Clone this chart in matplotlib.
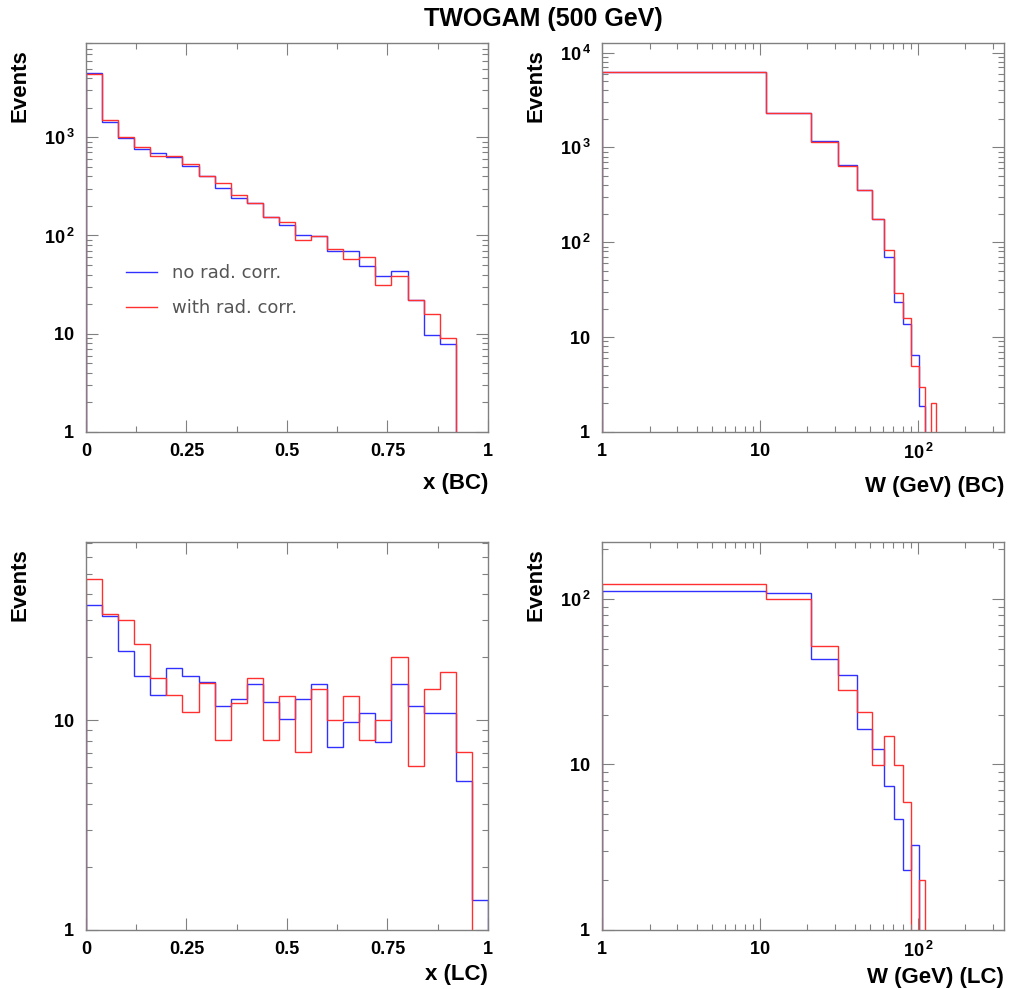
import numpy as np
import matplotlib
matplotlib.use('Agg')
import matplotlib.pyplot as plt
from matplotlib.ticker import FixedLocator, NullFormatter, LogLocator
from matplotlib.lines import Line2D

plt.rcParams['font.family'] = ['Liberation Sans', 'DejaVu Sans']
plt.rcParams['mathtext.fontset'] = 'custom'
plt.rcParams['mathtext.rm'] = 'Liberation Sans:bold'
plt.rcParams['mathtext.it'] = 'Liberation Sans:bold'
plt.rcParams['mathtext.bf'] = 'Liberation Sans:bold'

# бины
x_edges = np.linspace(0, 1, 26)
w_edges = np.arange(1, 352, 10)

# x (BC)
blue_xbc = [4500, 1430, 977, 766, 692, 625, 506, 406, 306, 242, 212, 156, 127,
            102, 98, 69, 69, 49, 38.5, 44, 22, 9.7, 7.85, 0, 0]
red_xbc = [4450, 1515, 1008, 790, 650, 640, 539, 406, 342, 258, 212, 156, 138,
           89, 98, 73, 57, 61, 31, 39, 22, 16, 9.1, 0, 0]

# W (BC)
blue_wbc = [6260, 2316, 1167, 651, 356, 176, 69.5, 23.4, 13.7, 6.5, 1.88, 0, 0] + [0] * 22
red_wbc = [6260, 2316, 1130, 636, 356, 176, 82, 29.5, 16.1, 5, 3, 0, 2] + [0] * 22

# x (LC)
blue_xlc = [35.5, 31.5, 21.5, 16.3, 13.2, 17.8, 16.3, 15.3, 11.7, 12.6, 14.9, 12.2, 10.2,
            12.6, 14.9, 7.49, 9.8, 10.8, 7.91, 14.9, 11.7, 10.8, 10.8, 5.14, 1.39]
red_xlc = [47.4, 32.2, 30.2, 23.1, 16.0, 13.2, 11.0, 15.1, 8.06, 12.1, 16.0, 8.06, 13.1,
           7.06, 14.1, 10.0, 13.1, 8.06, 10.0, 20.1, 6.05, 14.1, 17.1, 7.06, 0]

# W (LC)
blue_wlc = [112, 108, 43.6, 34.9, 16.3, 12.4, 7.4, 4.66, 2.31, 3.24, 0, 0, 0] + [0] * 22
red_wlc = [123, 100, 52, 28, 20.8, 9.9, 14.9, 9.9, 5.95, 0, 2, 0, 0] + [0] * 22

ymax = {'xbc': 9100, 'wbc': 12600, 'xlc': 71, 'wlc': 221}

gray = '#808080'


def ylab(v):
    e = int(round(np.log10(v)))
    if e == 0:
        return r'$\mathbf{1}\ \;$'
    if e == 1:
        return r'$\mathbf{10}\ \;$'
    return r'$\mathbf{10^{\,%d}}$' % e


def xlab_log(v):
    e = int(round(np.log10(v)))
    if e == 0:
        return r'$\mathbf{1}$'
    if e == 1:
        return r'$\mathbf{10}$'
    return r'$\mathbf{10^{\,%d}}$' % e


def setup(ax, blue, red, edges, top, xlabel, logx, xpad):
    ax.stairs(blue, edges, color='#3030ff', lw=1.0, baseline=0)
    ax.stairs(red, edges, color='#ff3030', lw=1.0, baseline=0)
    ax.set_yscale('log', nonpositive='clip')
    ax.set_ylim(1, top)
    decs = [10 ** k for k in range(0, 5) if 10 ** k <= top]
    ax.yaxis.set_major_locator(FixedLocator(decs))
    ax.set_yticklabels([ylab(d) for d in decs])
    ax.yaxis.set_minor_locator(LogLocator(base=10, subs=np.arange(2, 10), numticks=20))
    ax.yaxis.set_minor_formatter(NullFormatter())
    if logx:
        ax.set_xscale('log')
        ax.set_xlim(edges[0], edges[-1])
        ax.xaxis.set_major_locator(FixedLocator([1, 10, 100]))
        ax.set_xticklabels([xlab_log(v) for v in [1, 10, 100]])
        ax.xaxis.set_minor_locator(LogLocator(base=10, subs=np.arange(2, 10), numticks=20))
        ax.xaxis.set_minor_formatter(NullFormatter())
    else:
        ax.set_xlim(0, 1)
        ax.set_xticks([0, 0.25, 0.5, 0.75, 1])
        ax.set_xticklabels(['0', '0.25', '0.5', '0.75', '1'], fontweight='bold')
        ax.set_xticks(np.arange(0.125, 1, 0.25), minor=True)
    ax.tick_params(which='both', direction='in', top=True, right=True,
                   color=gray, width=0.8, labelsize=13, pad=8)
    ax.tick_params(which='major', length=8.5)
    ax.tick_params(which='minor', length=4.5)
    for s in ax.spines.values():
        s.set_color(gray)
        s.set_linewidth(1.0)
    ax.set_xlabel(xlabel, loc='right', fontsize=16, fontweight='bold', labelpad=xpad)
    ax.set_ylabel('Events', loc='top', fontsize=16, fontweight='bold')
    ax.yaxis.set_label_coords(-0.139, 0.985)


fig = plt.figure(figsize=(10.09, 9.89), dpi=100)
ax1 = fig.add_axes([0.0852, 0.5632, 0.3984, 0.3933])
ax2 = fig.add_axes([0.5966, 0.5632, 0.3984, 0.3933])
ax3 = fig.add_axes([0.0852, 0.0597, 0.3984, 0.3923])
ax4 = fig.add_axes([0.5966, 0.0597, 0.3984, 0.3923])

setup(ax1, blue_xbc, red_xbc, x_edges, ymax['xbc'], 'x (BC)', False, 9)
setup(ax2, blue_wbc, red_wbc, w_edges, ymax['wbc'], 'W (GeV) (BC)', True, 9)
setup(ax3, blue_xlc, red_xlc, x_edges, ymax['xlc'], 'x (LC)', False, 4)
setup(ax4, blue_wlc, red_wlc, w_edges, ymax['wlc'], 'W (GeV) (LC)', True, 4)

# легенда
handles = [Line2D([], [], color='#3030ff', lw=1.0), Line2D([], [], color='#ff3030', lw=1.0)]
leg = ax1.legend(handles, ['no rad. corr.', 'with rad. corr.'], loc='center left',
                 bbox_to_anchor=(0.0995, 0.364), frameon=False, borderpad=0, borderaxespad=0,
                 handlelength=1.7, handletextpad=0.85, labelspacing=0.95,
                 prop={'family': 'DejaVu Sans', 'size': 13})
for t in leg.get_texts():
    t.set_color('#555555')

fig.text(0.539, 1 - 19 / 989, 'TWOGAM (500 GeV)', ha='center', va='center',
         fontsize=18, fontweight='bold')

fig.savefig('out.png', dpi=100)
